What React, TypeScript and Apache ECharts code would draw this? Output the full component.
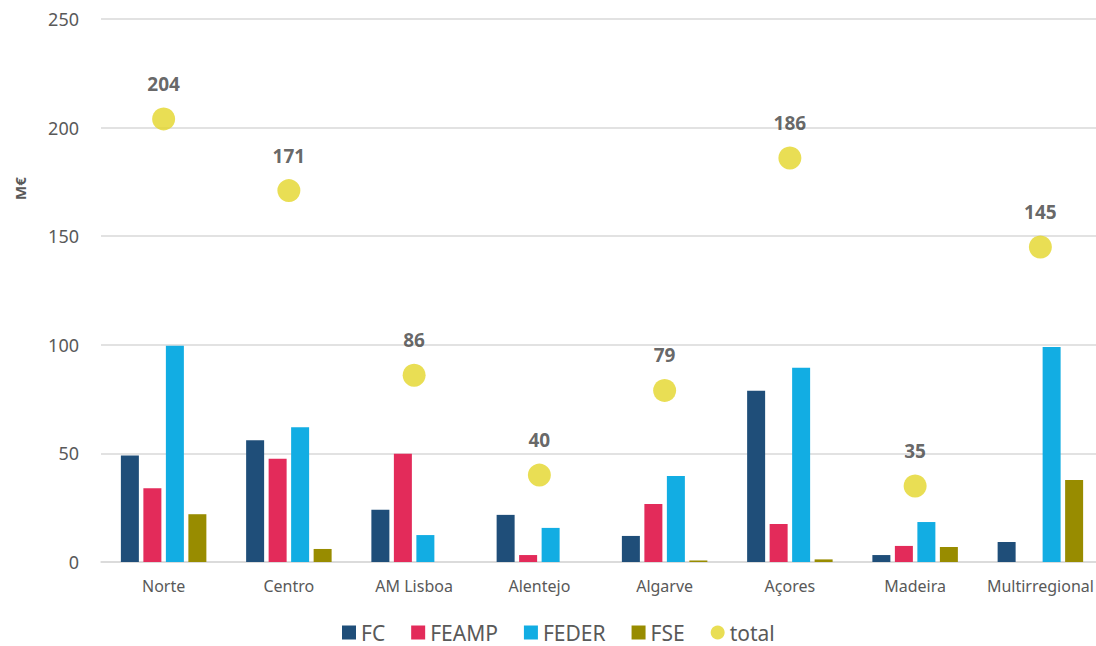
import React, { useEffect, useRef } from "react";
import * as echarts from "echarts";

const categories = ["Norte", "Centro", "AM Lisboa", "Alentejo", "Algarve", "Açores", "Madeira", "Multirregional"];
const fcValues = [49, 56, 24, 21.7, 12, 78.8, 3.2, 9.2];
const feampValues = [34, 47.5, 49.8, 3.2, 26.7, 17.5, 7.4, 0];
const federValues = [99.6, 62, 12.4, 15.7, 39.6, 89.4, 18.4, 99];
const fseValues = [22, 6, 0, 0, 0.7, 1.2, 6.9, 37.8];
const totalValues = [204, 171, 86, 40, 79, 186, 35, 145];
const yTicks = [0, 50, 100, 150, 200, 250];

const FONT = "'Noto Sans', sans-serif";

export default function App() {
  const ref = useRef<HTMLDivElement>(null);
  useEffect(() => {
    document.body.style.overflow = "hidden";
    const chart = echarts.init(ref.current!, undefined, { renderer: "svg" });
    const barSeries = (name: string, data: number[], color: string) => ({
      name,
      type: "bar",
      data,
      barWidth: 18,
      barGap: "25%",
      itemStyle: { color },
    });
    chart.setOption({
      animation: false,
      textStyle: { fontFamily: FONT },
      grid: { left: 101, right: 0, top: 19, bottom: 84 },
      legend: {
        bottom: -2,
        left: 337,
        itemWidth: 14,
        itemHeight: 14,
        itemGap: 26,
        textStyle: { fontSize: 21, color: "#595959", fontFamily: FONT },
        data: [
          { name: "FC", icon: "rect" },
          { name: "FEAMP", icon: "rect" },
          { name: "FEDER", icon: "rect" },
          { name: "FSE", icon: "rect" },
          { name: "total", icon: "circle" },
        ],
      },
      xAxis: {
        type: "category",
        data: categories,
        axisTick: { show: false },
        axisLine: { lineStyle: { color: "#d9d9d9", width: 1.5 } },
        axisLabel: { fontSize: 16, color: "#595959", margin: 16, interval: 0 },
      },
      yAxis: {
        type: "value",
        min: 0,
        max: 250,
        interval: 50,
        axisLine: { show: false },
        axisTick: { show: false },
        axisLabel: {
          fontSize: 18,
          color: "#595959",
          margin: 22,
          formatter: (v: number) => (yTicks.includes(v) ? String(v) : ""),
        },
        splitLine: { lineStyle: { color: "#d9d9d9", width: 1.5 } },
      },
      graphic: [
        {
          type: "text",
          x: 12,
          y: 200,
          rotation: Math.PI / 2,
          style: { text: "M€", fontSize: 15, fontWeight: "bold", fill: "#595959", fontFamily: FONT },
        },
      ],
      series: [
        barSeries("FC", fcValues, "#1F4E79"),
        barSeries("FEAMP", feampValues, "#E32B5A"),
        barSeries("FEDER", federValues, "#12ADE3"),
        barSeries("FSE", fseValues, "#988C00"),
        {
          name: "total",
          type: "scatter",
          data: totalValues,
          symbolSize: 23,
          itemStyle: { color: "#E3D629" },
          label: {
            show: true,
            position: "top",
            distance: 14,
            fontSize: 19,
            fontWeight: "bold",
            color: "#404040",
          },
        },
      ],
    });
    return () => chart.dispose();
  }, []);
  return (
    <div
      ref={ref}
      style={{ position: "fixed", left: 0, top: 0, width: 1103, height: 646, background: "#fff" }}
    />
  );
}
